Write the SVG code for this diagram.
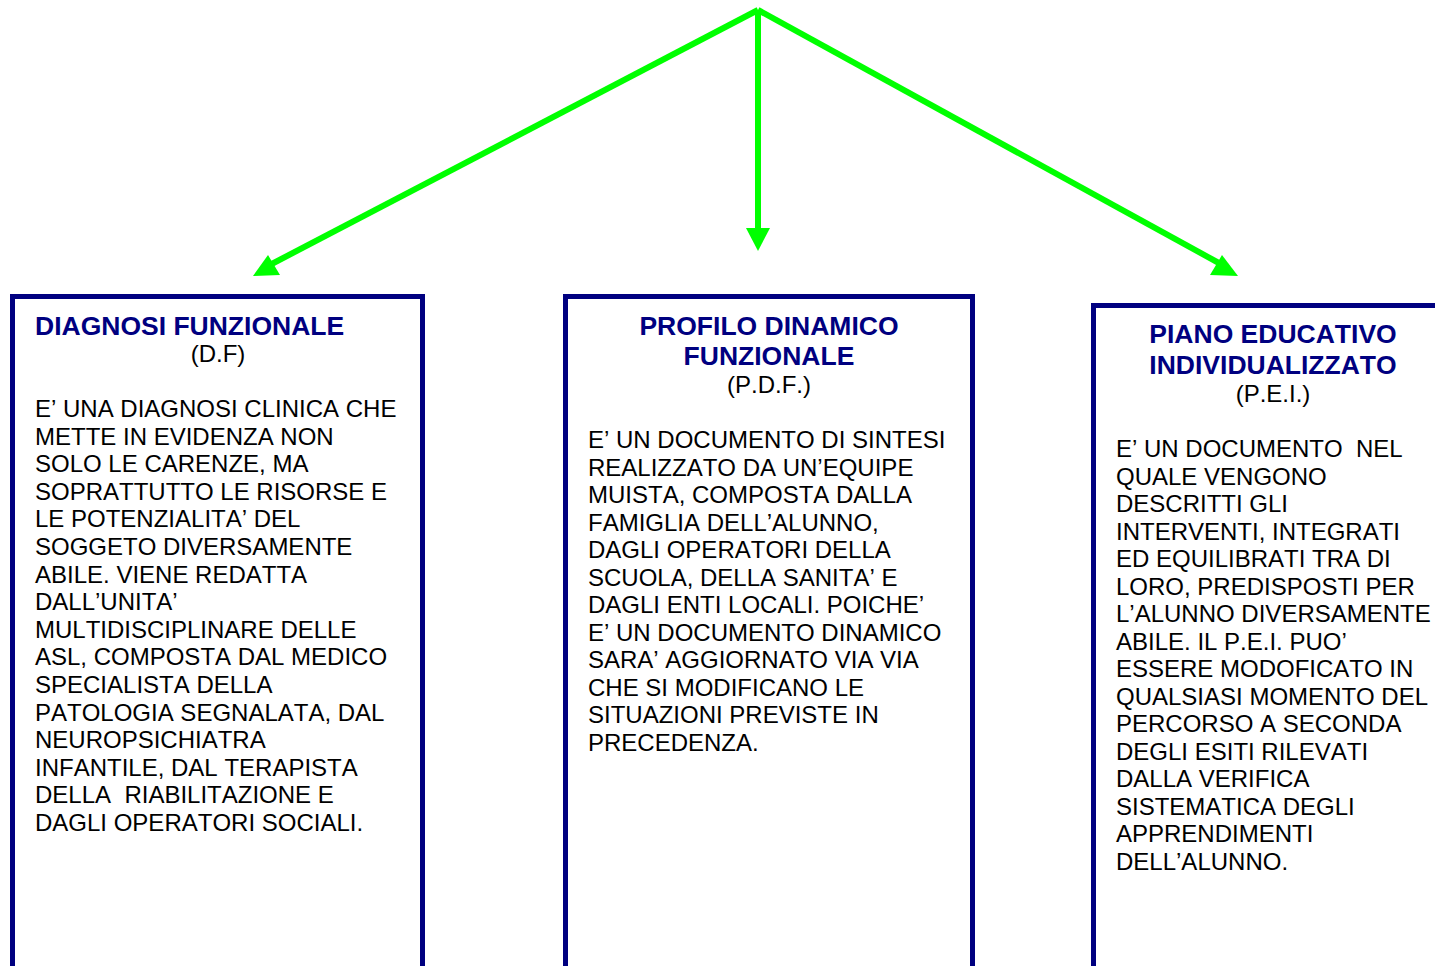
<svg xmlns="http://www.w3.org/2000/svg" width="1435" height="966" viewBox="0 0 1435 966">
<style>
text{font-family:"Liberation Sans",Arial,sans-serif;font-kerning:none}
.box{fill:#fff;stroke:#000080;stroke-width:5}
.t{font-size:26.5px;font-weight:bold;fill:#000080}
.s{font-size:24px;fill:#000}
.b{font-size:24px;fill:#000}
.c{stroke:#00ff00;stroke-width:6;fill:none}
.h{fill:#00ff00}
</style>
<rect width="1435" height="966" fill="#fff"/>
<g id="connectors">
<line class="c" x1="758" y1="10" x2="264" y2="268"/>
<polygon class="h" points="253,276 268,255 280,275"/>
<line class="c" x1="758" y1="10" x2="758" y2="232"/>
<polygon class="h" points="746,228 770,228 758,251"/>
<line class="c" x1="758" y1="10" x2="1228" y2="268"/>
<polygon class="h" points="1238,276 1222,255 1210,275"/>
</g>
<g id="node-df">
<rect class="box" x="12.5" y="296.5" width="410" height="720"/>
<text class="t" x="35" y="335">DIAGNOSI FUNZIONALE</text>
<text class="s" x="218" y="362" text-anchor="middle">(D.F)</text>
<text class="b">
<tspan x="35" y="417">E’ UNA DIAGNOSI CLINICA CHE</tspan>
<tspan x="35" y="444.6">METTE IN EVIDENZA NON</tspan>
<tspan x="35" y="472.2">SOLO LE CARENZE, MA</tspan>
<tspan x="35" y="499.8">SOPRATTUTTO LE RISORSE E</tspan>
<tspan x="35" y="527.4">LE POTENZIALITA’ DEL</tspan>
<tspan x="35" y="555">SOGGETO DIVERSAMENTE</tspan>
<tspan x="35" y="582.6">ABILE. VIENE REDATTA</tspan>
<tspan x="35" y="610.2">DALL’UNITA’</tspan>
<tspan x="35" y="637.8">MULTIDISCIPLINARE DELLE</tspan>
<tspan x="35" y="665.4">ASL, COMPOSTA DAL MEDICO</tspan>
<tspan x="35" y="693">SPECIALISTA DELLA</tspan>
<tspan x="35" y="720.6">PATOLOGIA SEGNALATA, DAL</tspan>
<tspan x="35" y="748.2">NEUROPSICHIATRA</tspan>
<tspan x="35" y="775.8">INFANTILE, DAL TERAPISTA</tspan>
<tspan x="35" y="803.4" xml:space="preserve">DELLA  RIABILITAZIONE E</tspan>
<tspan x="35" y="831">DAGLI OPERATORI SOCIALI.</tspan>
</text>
</g>
<g id="node-pdf">
<rect class="box" x="565.5" y="296.5" width="407" height="720"/>
<text class="t" x="769" y="335" text-anchor="middle">PROFILO DINAMICO</text>
<text class="t" x="769" y="365" text-anchor="middle">FUNZIONALE</text>
<text class="s" x="769" y="393" text-anchor="middle">(P.D.F.)</text>
<text class="b">
<tspan x="588" y="448">E’ UN DOCUMENTO DI SINTESI</tspan>
<tspan x="588" y="475.5">REALIZZATO DA UN’EQUIPE</tspan>
<tspan x="588" y="503">MUISTA, COMPOSTA DALLA</tspan>
<tspan x="588" y="530.5">FAMIGLIA DELL’ALUNNO,</tspan>
<tspan x="588" y="558">DAGLI OPERATORI DELLA</tspan>
<tspan x="588" y="585.5">SCUOLA, DELLA SANITA’ E</tspan>
<tspan x="588" y="613">DAGLI ENTI LOCALI. POICHE’</tspan>
<tspan x="588" y="640.5">E’ UN DOCUMENTO DINAMICO</tspan>
<tspan x="588" y="668">SARA’ AGGIORNATO VIA VIA</tspan>
<tspan x="588" y="695.5">CHE SI MODIFICANO LE</tspan>
<tspan x="588" y="723">SITUAZIONI PREVISTE IN</tspan>
<tspan x="588" y="750.5">PRECEDENZA.</tspan>
</text>
</g>
<g id="node-pei">
<rect class="box" x="1093.5" y="305.5" width="400" height="720"/>
<text class="t" x="1273" y="343" text-anchor="middle">PIANO EDUCATIVO</text>
<text class="t" x="1273" y="374" text-anchor="middle">INDIVIDUALIZZATO</text>
<text class="s" x="1273" y="402" text-anchor="middle">(P.E.I.)</text>
<text class="b">
<tspan x="1116" y="457" xml:space="preserve">E’ UN DOCUMENTO  NEL</tspan>
<tspan x="1116" y="484.5">QUALE VENGONO</tspan>
<tspan x="1116" y="512">DESCRITTI GLI</tspan>
<tspan x="1116" y="539.5">INTERVENTI, INTEGRATI</tspan>
<tspan x="1116" y="567">ED EQUILIBRATI TRA DI</tspan>
<tspan x="1116" y="594.5">LORO, PREDISPOSTI PER</tspan>
<tspan x="1116" y="622">L’ALUNNO DIVERSAMENTE</tspan>
<tspan x="1116" y="649.5">ABILE. IL P.E.I. PUO’</tspan>
<tspan x="1116" y="677">ESSERE MODOFICATO IN</tspan>
<tspan x="1116" y="704.5">QUALSIASI MOMENTO DEL</tspan>
<tspan x="1116" y="732">PERCORSO A SECONDA</tspan>
<tspan x="1116" y="759.5">DEGLI ESITI RILEVATI</tspan>
<tspan x="1116" y="787">DALLA VERIFICA</tspan>
<tspan x="1116" y="814.5">SISTEMATICA DEGLI</tspan>
<tspan x="1116" y="842">APPRENDIMENTI</tspan>
<tspan x="1116" y="869.5">DELL’ALUNNO.</tspan>
</text>
</g>
</svg>
